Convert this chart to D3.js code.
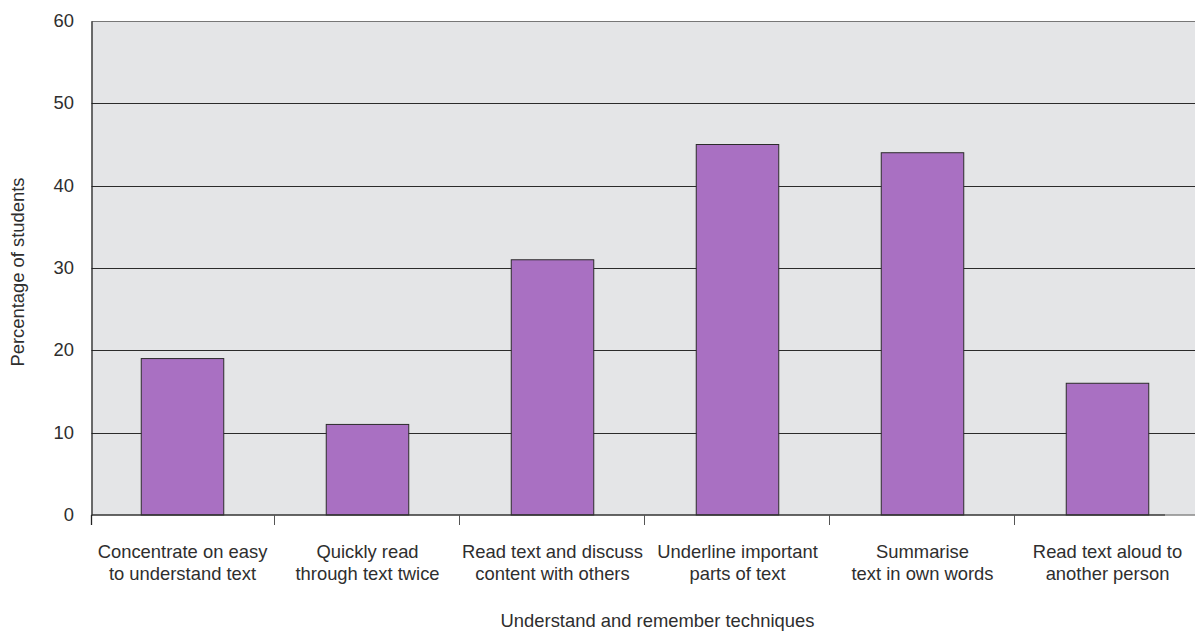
<!DOCTYPE html>
<html>
<head>
<meta charset="utf-8">
<script src="https://cdn.jsdelivr.net/npm/d3@7/dist/d3.min.js"></script>
<style>
  html, body { margin: 0; padding: 0; background: #fff; }
  svg text { font-family: "Liberation Sans", Arial, sans-serif; fill: #2e2e2e; }
</style>
</head>
<body>
<svg id="chart" width="1195" height="632"></svg>
<script>
const categories = [
  ["Concentrate on easy", "to understand text"],
  ["Quickly read", "through text twice"],
  ["Read text and discuss", "content with others"],
  ["Underline important", "parts of text"],
  ["Summarise", "text in own words"],
  ["Read text aloud to", "another person"]
];
const values = [19, 11, 31, 45, 44, 16];
const yTicks = [0, 10, 20, 30, 40, 50, 60];
const yTitle = "Percentage of students";
const xTitle = "Understand and remember techniques";

const svg = d3.select("#chart");
const pLeft = 91.5, pRight = 1201, pTop = 21, pBottom = 515;
const bandStart = 89, bandEnd = 1199;
const fs = 18.4;

const x = d3.scaleBand().domain(d3.range(categories.length)).range([bandStart, bandEnd]).paddingInner(0).paddingOuter(0);
const y = d3.scaleLinear().domain([0, 60]).range([pBottom, pTop]);

// background
svg.append("rect").attr("x", pLeft).attr("y", pTop).attr("width", pRight - pLeft).attr("height", pBottom - pTop).attr("fill", "#e4e5e7");

// gridlines
svg.append("g").selectAll("line").data(yTicks.filter(d => d > 0 && d < 60)).join("line")
  .attr("x1", pLeft).attr("x2", pRight).attr("y1", d => Math.round(y(d)) + 0.5).attr("y2", d => Math.round(y(d)) + 0.5)
  .attr("stroke", "#2b2b2b").attr("stroke-width", 1);
// top border
svg.append("line").attr("x1", pLeft).attr("x2", pRight).attr("y1", pTop + 0.5).attr("y2", pTop + 0.5).attr("stroke", "#777").attr("stroke-width", 1.2);

// bars
const bw = x.bandwidth() * 0.446;
svg.append("g").selectAll("rect").data(values).join("rect")
  .attr("x", (d, i) => x(i) + x.bandwidth() / 2 - bw / 2 + 1)
  .attr("width", bw)
  .attr("y", d => y(d))
  .attr("height", d => y(0) - y(d))
  .attr("fill", "#a970c2").attr("stroke", "#2b2b2b").attr("stroke-width", 1);

// y axis
const yAxis = d3.axisLeft(y).tickValues(yTicks).tickSize(0).tickPadding(17.5);
const gy = svg.append("g").attr("transform", `translate(${pLeft},0)`).call(yAxis);
gy.select(".domain").attr("stroke", "#222").attr("stroke-width", 1.3);
gy.selectAll("text").attr("font-size", fs).attr("font-family", "Liberation Sans, Arial, sans-serif").attr("dy", "0.3em");

// x axis
const gx = svg.append("g").attr("transform", `translate(0,${pBottom})`);
gx.append("line").attr("x1", pLeft).attr("x2", 1165).attr("y1", 0).attr("y2", 0).attr("stroke", "#333").attr("stroke-width", 1.5);
gx.append("line").attr("x1", 1165).attr("x2", pRight).attr("y1", 0).attr("y2", 0).attr("stroke", "#888").attr("stroke-width", 1.5);
gx.selectAll(".tk").data(d3.range(1, categories.length)).join("line").attr("class", "tk")
  .attr("x1", d => Math.round(x(d)) + 0.5).attr("x2", d => Math.round(x(d)) + 0.5)
  .attr("y1", 0).attr("y2", 10).attr("stroke", "#555").attr("stroke-width", 1);
gx.append("line").attr("x1", pLeft).attr("x2", pLeft).attr("y1", 0).attr("y2", 10).attr("stroke", "#222").attr("stroke-width", 1.3);

const labels = gx.selectAll(".cat").data(categories).join("text").attr("class", "cat")
  .attr("text-anchor", "middle").attr("font-size", fs)
  .attr("transform", (d, i) => `translate(${x(i) + x.bandwidth() / 2 + 1},0)`);
labels.selectAll("tspan").data(d => d).join("tspan")
  .attr("x", 0).attr("y", (d, j) => 43 + j * 22).text(d => d);

// titles
svg.append("text").attr("x", 657.5).attr("y", 627).attr("text-anchor", "middle")
  .attr("font-size", fs).text(xTitle);
svg.append("text").attr("transform", `translate(24,272) rotate(-90)`).attr("text-anchor", "middle")
  .attr("font-size", fs).text(yTitle);
</script>
</body>
</html>
